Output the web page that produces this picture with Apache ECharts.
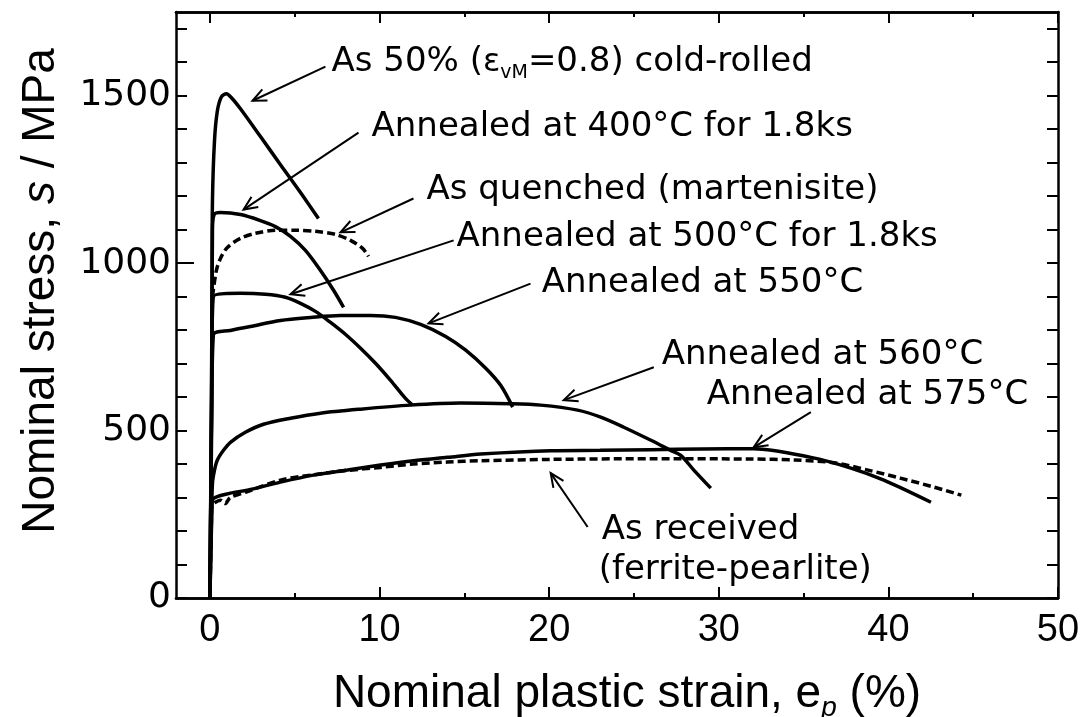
<!DOCTYPE html>
<html><head><meta charset="utf-8">
<script src="https://cdn.jsdelivr.net/npm/echarts@6/dist/echarts.min.js"></script>
<style>html,body{margin:0;padding:0;background:#fff}#c{width:1088px;height:717px}</style>
</head><body><div id="c"></div>
<script>
// ---- tick values ----
const xMajorTicks = [0, 10, 20, 30, 40, 50];
const xMinorTicks = [5, 15, 25, 35, 45];
const yLabelTicks = [0, 500, 1000, 1500];
const yAllTicks = [0,100,200,300,400,500,600,700,800,900,1000,1100,1200,1300,1400,1500,1600,1700];

// ---- curves: [strain %, stress MPa] ----
const coldRolled = [[0,0],[0.05,300],[0.09,590],[0.12,900],[0.15,1187],[0.27,1366],[0.44,1455],[0.68,1497],[0.97,1506],[1.27,1494],[1.8,1461],[2.98,1378],[4.16,1294],[5.34,1211],[6.4,1133]];
const annealed400 = [[0,0],[0.1,600],[0.15,1100],[0.25,1145],[0.62,1151],[1.8,1145],[2.98,1127],[3.86,1109],[4.75,1080],[5.63,1038],[6.52,978],[7.29,919],[7.88,868]];
const quenched = [[0.15,900],[0.38,978],[0.62,1014],[1.03,1047],[1.8,1074],[2.68,1089],[3.86,1098],[5.04,1098],[6.22,1095],[7.4,1086],[8.29,1068],[9.0,1044],[9.35,1020]];
const annealed500 = [[0,0],[0.1,600],[0.2,900],[1.8,910],[3.27,907],[4.45,898],[5.34,880],[6.22,856],[7.11,823],[8.0,787],[8.88,746],[9.76,701],[10.65,650],[11.53,596],[11.95,576]];
const annealed550 = [[0,0],[0.1,500],[0.2,785],[1.2,799],[2.39,811],[4.16,829],[5.93,838],[7.7,844],[9.47,844],[10.94,838],[12.42,817],[13.9,781],[15.08,740],[16.26,686],[17.14,635],[17.85,570]];
const annealed560 = [[0,0],[0.09,233],[0.15,343],[0.27,382],[0.44,412],[0.8,441],[1.21,465],[2.09,495],[3.16,519],[4.75,537],[6.52,552],[8.88,564],[11.83,576],[14.78,582],[17.72,580],[19.5,576],[21.68,561],[23.04,540],[24.4,510],[26.0,471],[27.17,441],[27.76,426],[28.53,382],[29.53,328]];
const annealed575 = [[0,0],[0.1,230],[0.15,292],[1.21,313],[2.21,322],[4.16,346],[6.1,367],[8.11,382],[10.06,397],[12.0,410],[14.01,420],[15.96,430],[20.1,440],[23,441],[26.0,443],[29,445],[32.06,446],[35.43,420],[37.79,388],[39.73,352],[42.51,286]];
const asReceived = [[0,0],[0.08,220],[0.12,275],[0.3,285],[0.62,292],[0.9,282],[1.2,300],[2.21,318],[4.16,352],[6.1,368],[8.11,381],[10.06,390],[12.0,400],[14.01,406],[15.96,410],[20.1,414],[26.0,416],[31.9,415],[34.5,412],[36.8,404],[38.8,382],[40.7,358],[42.7,331],[44.3,307]];

const curveNames = ['As 50% cold-rolled','Annealed at 400°C for 1.8ks','As quenched','Annealed at 500°C for 1.8ks','Annealed at 550°C','Annealed at 560°C','Annealed at 575°C','As received'];
const curveData = [coldRolled, annealed400, quenched, annealed500, annealed550, annealed560, annealed575, asReceived];
const curveDashed = [false, false, true, false, false, false, false, true];

// ---- annotations ----
const annotationTexts = ['As 50% ({g|ε}{s|vM}=0.8) cold-rolled','Annealed at 400°C for 1.8ks','As quenched (martenisite)','Annealed at 500°C for 1.8ks','Annealed at 550°C','Annealed at 560°C','Annealed at 575°C','As received','(ferrite-pearlite)'];
const annotationAnchors = [[7.11,1599],[9.47,1405],[12.71,1217],[14.48,1077],[19.5,939],[26.58,725],[29.23,605],[23.04,203],[22.86,84]];
const arrowSegments = [[6.81,1587,2.51,1485],[8.76,1390,1.98,1160],[12.0,1193,7.70,1092],[14.37,1068,4.75,907],[18.9,939,12.89,820],[26.17,689,20.86,591],[35.43,555,32.06,450],[22.27,212,20.09,373]];

const chart = echarts.init(document.getElementById('c'), null, {renderer:'canvas'});
const black = '#000';

function xAxisDef(pos, ticks, len, labels) {
  return {
    type:'value', min:-2, max:50, position:pos,
    axisLine:{show:true, onZero:false, lineStyle:{color:black, width:2.5}},
    axisTick:{show:true, inside:true, length:len, customValues:ticks, lineStyle:{color:black, width:2}},
    axisLabel: labels ? {show:true, customValues:xMajorTicks, color:black, fontFamily:'Liberation Sans', fontSize:38, margin:14, formatter: v => String(v)} : {show:false},
    splitLine:{show:false}
  };
}
function yAxisDef(pos, ticks, len, labels, lineShow) {
  return {
    type:'value', min:0, max:1750, position:pos,
    axisLine:{show:lineShow, onZero:false, lineStyle:{color:black, width:2.5}},
    axisTick:{show:true, inside:true, length:len, customValues:ticks, lineStyle:{color:black, width:2}},
    axisLabel: labels ? {show:true, customValues:yLabelTicks, color:black, fontFamily:'DejaVu Sans', fontSize:36, margin:5, formatter: v => String(v)} : {show:false},
    splitLine:{show:false}
  };
}

const xAxes = [xAxisDef('bottom', xMajorTicks, 11, true), xAxisDef('bottom', xMinorTicks, 5, false), xAxisDef('top', xMajorTicks, 11, false), xAxisDef('top', xMinorTicks, 5, false)];
Object.assign(xAxes[0], {
  name:'Nominal plastic strain, e{p|p} (%)', nameLocation:'middle', nameGap:68,
  nameTextStyle:{color:black, fontFamily:'Liberation Sans', fontSize:46, lineHeight:56, padding:[0,0,0,20],
    rich:{p:{fontFamily:'Liberation Sans', fontStyle:'italic', fontSize:28, lineHeight:28, verticalAlign:'bottom', color:black}}}
});
const yAxes = [yAxisDef('left', yAllTicks, 11, true, true), yAxisDef('left', [1000], 18, false, false), yAxisDef('right', yAllTicks, 11, false, true)];
Object.assign(yAxes[0], {
  name:'Nominal stress, {i|s} / MPa', nameLocation:'middle', nameGap:112, nameRotate:90,
  nameTextStyle:{color:black, fontFamily:'Liberation Sans', fontSize:46, padding:[0,0,0,28],
    rich:{i:{fontFamily:'Liberation Sans', fontStyle:'italic', fontSize:46, color:black}}}
});

const series = curveData.map((d, i) => ({
  name: curveNames[i], type:'line', data:d, xAxisIndex:0, yAxisIndex:0,
  showSymbol:false, symbol:'none', smooth:0.3, z:3,
  lineStyle:{color:black, width:3.5, type: curveDashed[i] ? [8,4] : 'solid', cap:'butt'}
}));

series.push({
  type:'custom', xAxisIndex:0, yAxisIndex:0, z:4, silent:true, clip:false,
  encode:{x:[0,2], y:[1,3]},
  data: arrowSegments,
  renderItem: function(params, api) {
    const p1 = api.coord([api.value(0), api.value(1)]);
    const p2 = api.coord([api.value(2), api.value(3)]);
    const a = Math.atan2(p2[1]-p1[1], p2[0]-p1[0]);
    const L = 15, th = 0.42;
    const h1 = [p2[0]-L*Math.cos(a-th), p2[1]-L*Math.sin(a-th)];
    const h2 = [p2[0]-L*Math.cos(a+th), p2[1]-L*Math.sin(a+th)];
    return {type:'group', children:[
      {type:'line', shape:{x1:p1[0], y1:p1[1], x2:p2[0], y2:p2[1]}, style:{stroke:black, lineWidth:2}},
      {type:'polyline', shape:{points:[h1, p2, h2]}, style:{stroke:black, lineWidth:2, fill:null}}
    ]};
  }
});

series.push({
  type:'scatter', xAxisIndex:0, yAxisIndex:0, z:5, silent:true,
  symbol:'circle', symbolSize:2, itemStyle:{color:'rgba(0,0,0,0)'},
  labelLayout:{hideOverlap:false},
  data: annotationAnchors.map((p, i) => ({value:p, label:{formatter: annotationTexts[i]}})),
  label:{show:true, position:'right', distance:0, color:black, opacity:1, fontFamily:'DejaVu Sans', fontSize:34, lineHeight:40,
    rich:{g:{fontFamily:'DejaVu Sans', fontSize:32, lineHeight:40, color:black}, s:{fontFamily:'DejaVu Sans', fontSize:19, lineHeight:22, verticalAlign:'bottom', color:black}}}
});

chart.setOption({
  animation:false,
  backgroundColor:'#fff',
  grid:{left:176, right:30, top:12, bottom:119, containLabel:false, outerBoundsMode:'none'},
  xAxis: xAxes, yAxis: yAxes, series: series
});
</script></body></html>
